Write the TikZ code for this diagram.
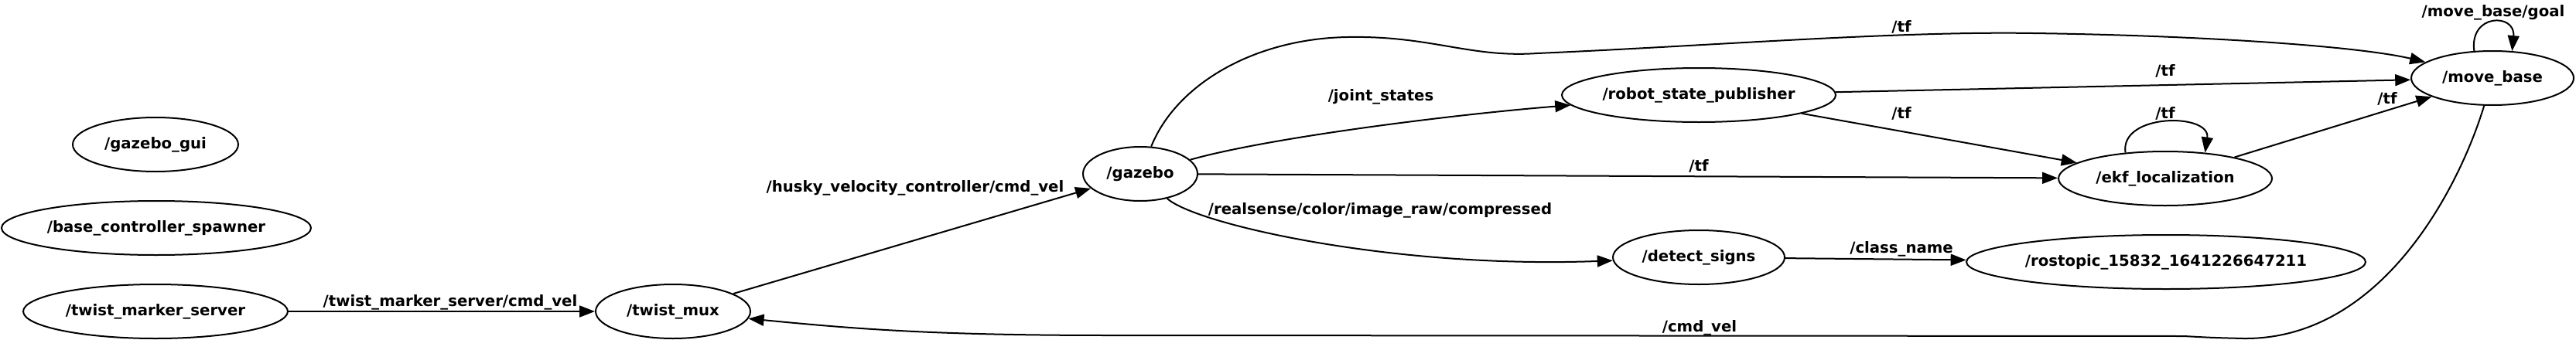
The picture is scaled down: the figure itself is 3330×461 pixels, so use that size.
\documentclass[tikz,border=0pt]{standalone}
\usepackage{fontspec}
\setmainfont{DejaVu Sans}
\usetikzlibrary{shapes.geometric,arrows.meta}
\tikzset{
  rosnode/.style={draw, ellipse, line width=2pt, inner sep=0pt, minimum height=70pt, font=\fontsize{19.7}{23}\selectfont\bfseries},
  topic/.style={line width=2pt, -{Triangle[length=20pt,width=15pt]}},
  lbl/.style={anchor=base, inner sep=0pt, font=\fontsize{19.7}{23}\selectfont\bfseries}
}
\begin{document}
\begin{tikzpicture}[x=1pt,y=-1pt]
\useasboundingbox (0,0) rectangle (3330,461);
% nodes
\node[rosnode, minimum width=214pt] (gg) at (201,187) {/gazebo\_gui};
\node[rosnode, minimum width=400pt] (bcs) at (202,295) {/base\_controller\_spawner};
\node[rosnode, minimum width=342pt] (tms) at (201,403) {/twist\_marker\_server};
\node[rosnode, minimum width=200pt] (tmux) at (870,403) {/twist\_mux};
\node[rosnode, minimum width=148pt] (gazebo) at (1474,225) {/gazebo};
\node[rosnode, minimum width=354pt] (rsp) at (2196,123) {/robot\_state\_publisher};
\node[rosnode, minimum width=210pt] (mb) at (3222,101) {/move\_base};
\node[rosnode, minimum width=276pt] (ekf) at (2799,231) {/ekf\_localization};
\node[rosnode, minimum width=222pt] (ds) at (2196,333) {/detect\_signs};
\node[rosnode, minimum width=516pt] (rt) at (2800,339) {/rostopic\_15832\_1641226647211};
% edges
\draw[topic] (tms) -- (tmux);
\draw[topic] (tmux) -- (gazebo);
\draw[topic] (gazebo) .. controls (1640,178) and (1880,148) .. (rsp);
\draw[topic] (gazebo) -- (ekf);
\draw[topic] (gazebo) .. controls (1520,110) and (1620,50) .. (1742,48)
  .. controls (1850,46) and (1900,75) .. (1987,69)
  .. controls (2200,60) and (2450,40) .. (2628,43)
  .. controls (2850,46) and (3050,60) .. (mb);
\draw[topic] (rsp) -- (mb);
\draw[topic] (rsp) -- (ekf);
\draw[topic] (ekf.147) .. controls (2740,146) and (2858,146) .. (ekf.33);
\draw[topic] (ekf) -- (mb);
\draw[topic] (mb.124) .. controls (3192,17) and (3252,17) .. (mb.54.5);
\draw[topic] (gazebo) .. controls (1545,290) and (1800,348) .. (ds);
\draw[topic] (ds) -- (rt);
\draw[topic] (mb) .. controls (3180,240) and (3080,440) .. (2900,438)
  .. controls (2860,437) .. (2823,435) -- (1436,434)
  .. controls (1200,434) and (1100,425) .. (tmux);
% labels
\node[lbl] (l1) at (582,396) {/twist\_marker\_server/cmd\_vel};
\node[lbl] (l2) at (1183,248) {/husky\_velocity\_controller/cmd\_vel};
\node[lbl] (l3) at (1785,130) {/joint\_states};
\node[lbl] (l4) at (2196,221) {/tf};
\node[lbl] (l5) at (2458,41) {/tf};
\node[lbl] (l6) at (2799,98) {/tf};
\node[lbl] (l7) at (2458,153) {/tf};
\node[lbl] (l8) at (2799,153) {/tf};
\node[lbl] (l9) at (3086,134) {/tf};
\node[lbl] (l10) at (3223,21) {/move\_base/goal};
\node[lbl] (l11) at (1784,277) {/realsense/color/image\_raw/compressed};
\node[lbl] (l12) at (2458,327) {/class\_name};
\node[lbl] (l13) at (2197,429) {/cmd\_vel};
\end{tikzpicture}
\end{document}
